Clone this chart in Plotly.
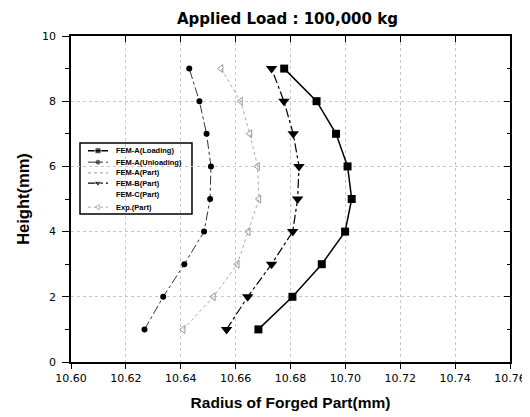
import plotly.graph_objects as go

heights = [1, 2, 3, 4, 5, 6, 7, 8, 9]
fem_a_loading = [10.6683, 10.6807, 10.6914, 10.6999, 10.7023, 10.7008, 10.6966, 10.6895, 10.6777]
fem_a_unloading = [10.6268, 10.6336, 10.6413, 10.6485, 10.6507, 10.6510, 10.6494, 10.6468, 10.6431]
fem_b_part = [10.6567, 10.6644, 10.6731, 10.6808, 10.6826, 10.6831, 10.6810, 10.6776, 10.6731]
exp_part = [10.6409, 10.6519, 10.6606, 10.6646, 10.6685, 10.6680, 10.6652, 10.6618, 10.6547]
x_ticks = [10.60, 10.62, 10.64, 10.66, 10.68, 10.70, 10.72, 10.74, 10.76]
y_ticks = [0, 2, 4, 6, 8, 10]
x_range = [10.60, 10.76]
y_range = [0, 10]
legend_names = ["FEM-A(Loading)", "FEM-A(Unloading)", "FEM-A(Part)", "FEM-B(Part)", "FEM-C(Part)", "Exp.(Part)"]

styles = {
    "FEM-A(Loading)": dict(mode="lines+markers", line=dict(color="black", width=1.5),
                           marker=dict(symbol="square", size=8, color="black")),
    "FEM-A(Unloading)": dict(mode="lines+markers", line=dict(color="#333", width=1, dash="dashdot"),
                             marker=dict(symbol="circle", size=6, color="black")),
    "FEM-A(Part)": dict(mode="lines", line=dict(color="#999", width=1, dash="dot")),
    "FEM-B(Part)": dict(mode="lines+markers", line=dict(color="black", width=1.2, dash="dashdot"),
                        marker=dict(symbol="triangle-down", size=10, color="black")),
    "FEM-C(Part)": dict(mode="lines", line=dict(color="rgba(0,0,0,0)", width=1)),
    "Exp.(Part)": dict(mode="lines+markers", line=dict(color="#aaa", width=1, dash="dot"),
                       marker=dict(symbol="triangle-left-open", size=7, color="#999")),
}
series = {"FEM-A(Loading)": fem_a_loading, "FEM-A(Unloading)": fem_a_unloading,
          "FEM-B(Part)": fem_b_part, "Exp.(Part)": exp_part}

fig = go.Figure()
for name in ["FEM-A(Loading)", "FEM-A(Unloading)", "FEM-B(Part)", "Exp.(Part)"]:
    fig.add_trace(go.Scatter(x=series[name], y=heights, name=name, showlegend=False, **styles[name]))

# compact legend drawn on an overlay axis (0..1 in plot-area fractions)
leg_x0, leg_x1, leg_y0, leg_y1 = 0.0205, 0.2756, 0.454, 0.6718
entry_y = [0.648, 0.613, 0.580, 0.549, 0.513, 0.475]
annotations = []
for name, ey in zip(legend_names, entry_y):
    st = styles[name]
    kw = dict(mode=st["mode"], line=st["line"])
    if "marker" in st:
        m = dict(st["marker"])
        s = max(4, int(m["size"] * 0.75))
        m["size"] = [0, s, 0]
        kw["marker"] = m
    fig.add_trace(go.Scatter(x=[0.0387, 0.0615, 0.0843], y=[ey] * 3, xaxis="x2", yaxis="y2",
                             showlegend=False, hoverinfo="skip", **kw))
    annotations.append(dict(x=0.098, y=ey, xref="x2", yref="y2", text="<b>" + name + "</b>",
                            showarrow=False, xanchor="left", yanchor="middle",
                            font=dict(size=7.5, color="black", family="Liberation Sans, Arial")))

# chart title as an annotation just above the plot area
annotations.append(dict(x=0.493, y=1.052, xref="paper", yref="paper", showarrow=False,
                        text="<b>Applied Load : 100,000 kg</b>", xanchor="center", yanchor="middle",
                        font=dict(size=15, color="black", family="DejaVu Sans")))

# invisible anchor trace so the inside-tick top/right axes render
fig.add_trace(go.Scatter(x=[x_range[0]], y=[y_range[0]], xaxis="x3", yaxis="y3", mode="markers",
                         marker=dict(opacity=0), showlegend=False, hoverinfo="skip"))

axis_common = dict(showline=True, linecolor="black", linewidth=1.5, mirror=True,
                   ticks="outside", tickcolor="black", tickwidth=1,
                   showgrid=True, gridcolor="#c8c8c8", griddash="dot", gridwidth=1,
                   zeroline=False, automargin=False)

fig.update_layout(
    width=522, height=409,
    margin=dict(l=63, r=20, t=28, b=55),
    paper_bgcolor="white", plot_bgcolor="white",
    font=dict(family="Liberation Sans, Arial", color="black"),
    xaxis=dict(range=x_range, tickvals=x_ticks, tickformat=".2f", ticklen=5,
               tickfont=dict(family="DejaVu Sans", size=11, color="black"),
               title=dict(text="<b>Radius of Forged Part(mm)</b>", font=dict(size=15.5), standoff=13),
               **axis_common),
    yaxis=dict(range=y_range, tickvals=y_ticks, ticklen=7, ticklabelstandoff=4,
               minor=dict(ticks="outside", ticklen=4, dtick=1, tick0=0, showgrid=False, tickcolor="black"),
               tickfont=dict(family="DejaVu Sans", size=11, color="black"),
               title=dict(text="<b>Height(mm)</b>", font=dict(size=16.5), standoff=8),
               **axis_common),
    xaxis2=dict(range=[0, 1], overlaying="x", visible=False),
    yaxis2=dict(range=[0, 1], overlaying="y", visible=False),
    xaxis3=dict(range=x_range, overlaying="x", side="top", anchor="y3", tickvals=x_ticks,
                ticks="inside", ticklen=6, tickcolor="black", showticklabels=False,
                showgrid=False, showline=False, zeroline=False, automargin=False),
    yaxis3=dict(range=y_range, overlaying="y", side="right", anchor="x3", tickvals=y_ticks,
                ticks="inside", ticklen=6, tickcolor="black", showticklabels=False,
                minor=dict(ticks="inside", ticklen=3, dtick=1, tick0=0, showgrid=False, tickcolor="black"),
                showgrid=False, showline=False, zeroline=False, automargin=False),
    shapes=[dict(type="rect", xref="paper", yref="paper", x0=leg_x0, x1=leg_x1, y0=leg_y0, y1=leg_y1,
                 line=dict(color="black", width=1.5), fillcolor="white", layer="between")],
    annotations=annotations,
    showlegend=False,
)

fig.write_html("out.html")
